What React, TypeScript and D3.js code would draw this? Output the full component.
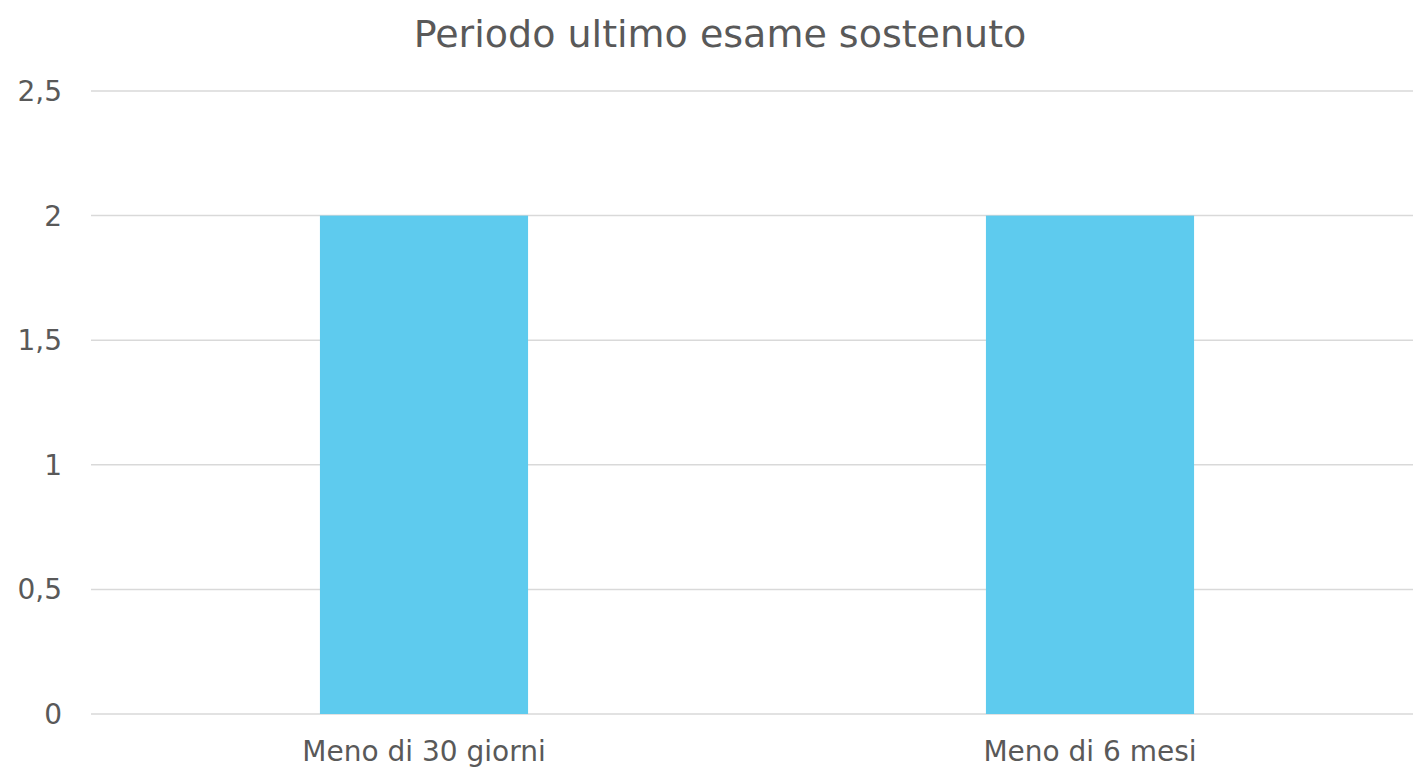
import React, { useMemo } from "react";
import * as d3 from "d3";

const categories = ["Meno di 30 giorni", "Meno di 6 mesi"];
const values = [2, 2];
const yTicks = [0, 0.5, 1, 1.5, 2, 2.5];
const title = "Periodo ultimo esame sostenuto";

const W = 1413;
const H = 773;
const FONT = "'DejaVu Sans', Verdana, sans-serif";

export default function App() {
    const x = useMemo(() => d3.scaleBand<string>().domain(categories).range([91, 1423]).padding(0), []);
    const y = useMemo(() => d3.scaleLinear().domain([0, 2.5]).range([714, 91]), []);
    const barW = x.bandwidth() * 0.3125;
    const fmt = (v: number) => String(v).replace(".", ",");

    return (
        <svg width={W} height={H} style={{ position: "absolute", left: 0, top: 0, background: "#fff" }} fontFamily={FONT}>
            <text x={720} y={47} textAnchor="middle" fontSize={38} fill="#595959">{title}</text>

            {/* gridlines */}
            {yTicks.map(t => (
                <line key={t} x1={91} x2={W} y1={y(t)} y2={y(t)} stroke="#d9d9d9" strokeWidth={1.5} />
            ))}

            {/* y labels */}
            {yTicks.map(t => (
                <text key={"l" + t} x={62} y={y(t)} dy="0.36em" textAnchor="end" fontSize={28} fill="#595959">{fmt(t)}</text>
            ))}

            {/* bars */}
            {categories.map((c, i) => (
                <rect key={c}
                    x={(x(c) ?? 0) + x.bandwidth() / 2 - barW / 2}
                    y={y(values[i])}
                    width={barW}
                    height={y(0) - y(values[i])}
                    fill="#5ECBEE" />
            ))}

            {/* x labels */}
            {categories.map(c => (
                <text key={"x" + c} x={(x(c) ?? 0) + x.bandwidth() / 2} y={761} textAnchor="middle" fontSize={28} fill="#595959">{c}</text>
            ))}
        </svg>
    );
}
